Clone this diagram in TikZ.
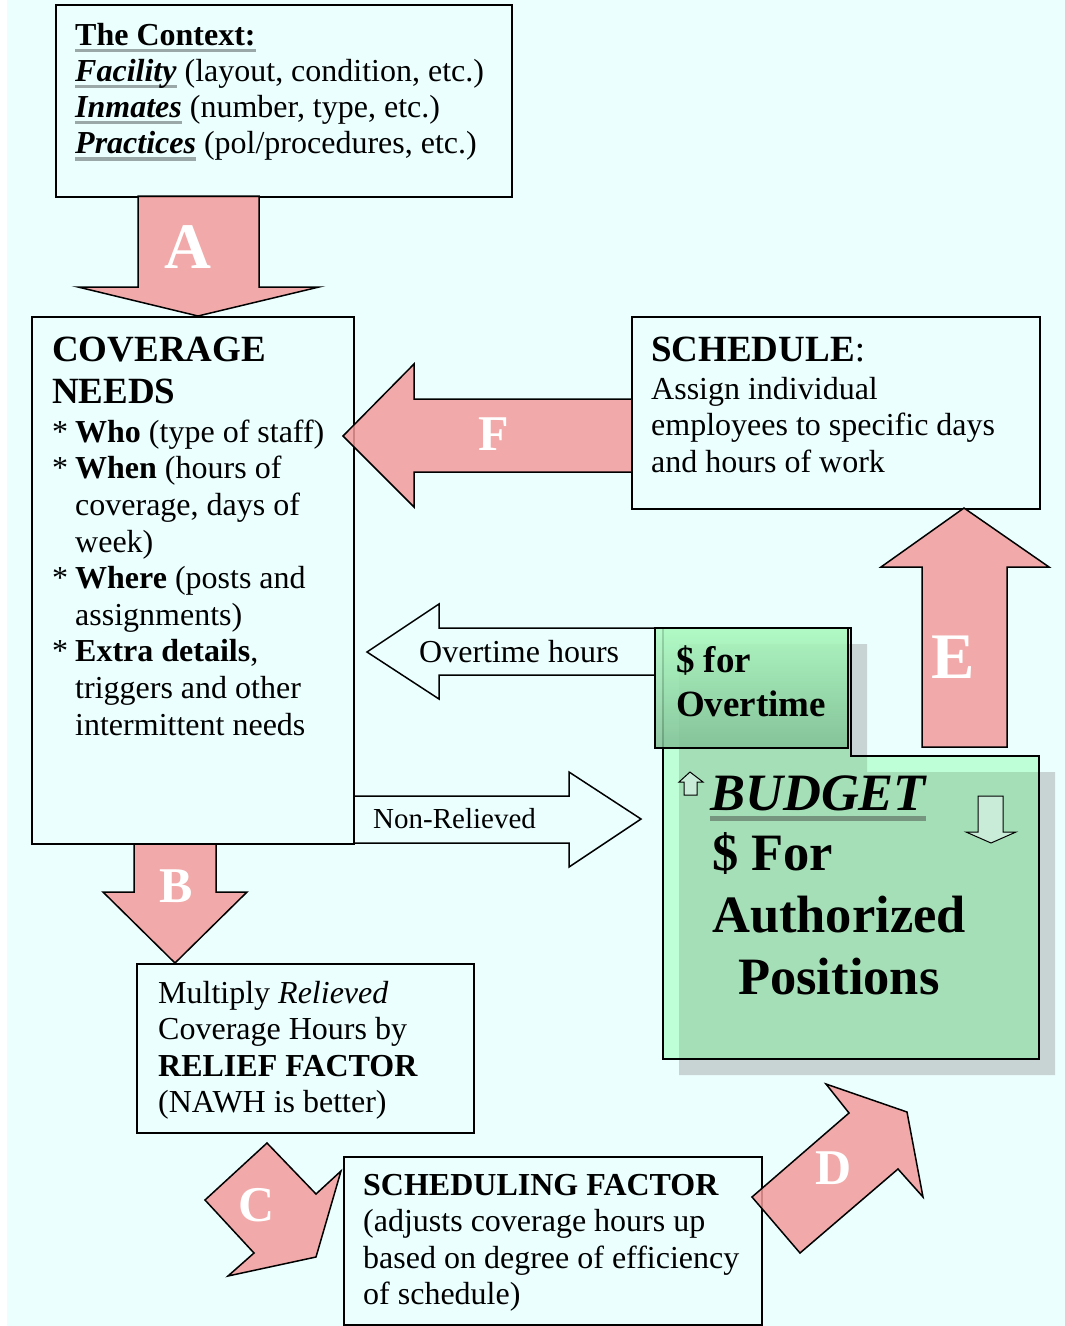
\documentclass[tikz,border=0pt]{standalone}
\usepackage{fontspec}
\setmainfont{Liberation Serif}
\definecolor{bgc}{RGB}{236,255,255}
\definecolor{pinkc}{RGB}{243,155,155}
\definecolor{ulg}{RGB}{155,168,168}
\definecolor{shadowc}{RGB}{200,212,212}
\definecolor{budgc}{RGB}{75,255,112}
\definecolor{otop}{RGB}{175,250,195}
\definecolor{obot}{RGB}{128,190,148}
\definecolor{smallar}{RGB}{200,236,216}
\definecolor{bul}{RGB}{118,150,128}
\newcommand\lns[3]{\vtop{\fontsize{#1}{#2}\selectfont #3}}
\newcommand\gul[1]{\setbox0\hbox{#1}\rlap{\color{ulg}\rule[-7pt]{\wd0}{3.4pt}}\box0\relax}
\newcommand\bgul[1]{\setbox0\hbox{#1}\rlap{\color{bul}\rule[-11pt]{\wd0}{5pt}}\box0\relax}
\tikzset{
  box/.style={draw, line width=1.6pt, anchor=north west, inner sep=0pt, rectangle},
  blk/.style={draw, line width=1.5pt, fill=pinkc, fill opacity=0.85, line join=miter},
  wblk/.style={draw, line width=1.5pt, line join=miter},
  letter/.style={text=white, font=\fontsize{50}{50}\selectfont\bfseries, inner sep=0pt},
  bigletter/.style={text=white, font=\fontsize{65}{65}\selectfont\bfseries, inner sep=0pt},
  txt/.style={anchor=base west, inner sep=0pt},
  smallarrow/.style={draw, line width=1pt, fill=smallar},
}
\begin{document}
\begin{tikzpicture}[x=1pt, y=-1pt]
\useasboundingbox (0,0) rectangle (1065,1326);
\fill[bgc] (7,0) rectangle (1065,1326);

% budget shadow and body
\fill[shadowc] (679,644) -- (867,644) -- (867,772) -- (1055,772) -- (1055,1075) -- (679,1075) -- cycle;
\fill[budgc, fill opacity=0.28] (663,628) -- (851,628) -- (851,756) -- (1039,756) -- (1039,1059) -- (663,1059) -- cycle;
\draw[line width=1.6pt] (663,628) -- (851,628) -- (851,756) -- (1039,756) -- (1039,1059) -- (663,1059) -- cycle;

% boxes
\node[box, minimum width=456pt, minimum height=192pt] (ctx) at (55,4) {};
\node[box, minimum width=322pt, minimum height=527pt] (cov) at (31,316) {};
\node[box, minimum width=408pt, minimum height=192pt] (sched) at (631,316) {};
\node[box, minimum width=337pt, minimum height=169pt] (relief) at (136,963) {};
\node[box, minimum width=418pt, minimum height=168pt] (sf) at (343,1156) {};

% texts
\node[txt] (ctxt) at (75,45) {\lns{32}{36.2}{%
  \hbox{\gul{\textbf{The Context:}}}%
  \hbox{\gul{\textbf{\textit{Facility}}} (layout, condition, etc.)}%
  \hbox{\gul{\textbf{\textit{Inmates}}} (number, type, etc.)}%
  \hbox{\gul{\textbf{\textit{Practices}}} (pol/procedures, etc.)}}};

\node[txt] (covt) at (52,361) {\lns{32}{36.6}{%
  \hbox{\fontsize{37}{43}\selectfont\bfseries COVERAGE}\kern6pt%
  \hbox{\fontsize{37}{43}\selectfont\bfseries NEEDS}\kern2pt%
  \hbox{\makebox[23pt][l]{*}\textbf{Who} (type of staff)}%
  \hbox{\makebox[23pt][l]{*}\textbf{When} (hours of}%
  \hbox{\hspace*{23pt}coverage, days of}%
  \hbox{\hspace*{23pt}week)}%
  \hbox{\makebox[23pt][l]{*}\textbf{Where} (posts and}%
  \hbox{\hspace*{23pt}assignments)}%
  \hbox{\makebox[23pt][l]{*}\textbf{Extra details},}%
  \hbox{\hspace*{23pt}triggers and other}%
  \hbox{\hspace*{23pt}intermittent needs}}};

\node[txt] (schedt) at (651,361) {\lns{32}{36.6}{%
  \hbox{{\fontsize{37}{43}\selectfont\bfseries SCHEDULE}{\fontsize{37}{43}\selectfont:}}\kern1.5pt%
  \hbox{Assign individual}%
  \hbox{employees to specific days}%
  \hbox{and hours of work}}};

\node[txt] (relieft) at (158,1003) {\lns{32}{36.6}{%
  \hbox{Multiply \textit{Relieved}}%
  \hbox{Coverage Hours by}%
  \hbox{\textbf{RELIEF FACTOR}}%
  \hbox{(NAWH is better)}}};

\node[txt] (sft) at (363,1195) {\lns{32}{36.6}{%
  \hbox{\textbf{SCHEDULING FACTOR}}%
  \hbox{(adjusts coverage hours up}%
  \hbox{based on degree of efficiency}%
  \hbox{of schedule)}}};

% white block arrows
\draw[wblk] (655,628) -- (439,628) -- (439,604) -- (367,652) -- (439,699) -- (439,675) -- (655,675);
\node[txt] (oth) at (419,662) {\fontsize{32}{36}\selectfont Overtime hours};
\draw[wblk] (353,796) -- (569,796) -- (569,772) -- (641,819) -- (569,867) -- (569,843) -- (353,843);
\node[txt] (nrl) at (373,828) {\fontsize{29}{34}\selectfont Non-Relieved};

% overtime box
\node[box, minimum width=193pt, minimum height=120pt, top color=otop, bottom color=obot, fill opacity=0.85] (otbox) at (654,627) {};
\node[txt] (ott) at (676,672) {\lns{37}{44}{%
  \hbox{\bfseries \$ for}%
  \hbox{\bfseries Overtime}}};

% budget texts
\draw[smallarrow] (690,772) -- (703,782) -- (697,782) -- (697,795) -- (684,795) -- (684,782) -- (679,782) -- cycle;
\draw[smallarrow] (978,796) -- (1003,796) -- (1003,832) -- (1016,832) -- (991,843) -- (966,832) -- (978,832) -- cycle;
\node[txt] (budt) at (710,810) {\fontsize{52.5}{60}\selectfont\bfseries\itshape \bgul{BUDGET}};
\node[txt] (budt2) at (712,870) {\lns{52.5}{62}{%
  \hbox{\bfseries \$ For}%
  \hbox{\bfseries Authorized}%
  \hbox{\hspace*{26pt}\bfseries Positions}}};

% pink block arrows
\draw[blk] (138,196) -- (259,196) -- (259,287) -- (319,287) -- (198,316) -- (78,287) -- (138,287) -- cycle;
\node[bigletter] (la) at (188,247) {A};
\draw[blk] (134,844) -- (216,844) -- (216,892) -- (247,892) -- (175,963) -- (103,892) -- (134,892) -- cycle;
\node[letter] (lb) at (176,886) {B};
\draw[blk] (205,1200) -- (267,1143) -- (316,1194) -- (341,1171) -- (316,1257) -- (228,1276) -- (254,1253) -- cycle;
\node[letter] (lc) at (257,1205) {C};
\draw[blk] (752,1197) -- (849,1113) -- (826,1084) -- (907,1112) -- (923,1197) -- (898,1169) -- (800,1253) -- cycle;
\node[letter] (ld) at (834,1168) {D};
\draw[blk] (922,747) -- (922,567) -- (881,567) -- (964,508) -- (1049,567) -- (1007,567) -- (1007,747) -- cycle;
\node[bigletter] (le) at (953,657) {E};
\draw[blk] (631,399) -- (414,399) -- (414,364) -- (343,436) -- (414,507) -- (414,472) -- (631,472);
\node[letter] (lf) at (494,434) {F};
\end{tikzpicture}
\end{document}
